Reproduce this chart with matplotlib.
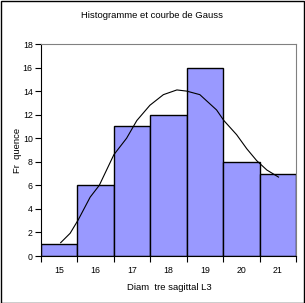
import numpy as np
import matplotlib
matplotlib.use("Agg")
import matplotlib.pyplot as plt
from matplotlib.patches import Rectangle

plt.rcParams['font.family'] = ['Liberation Sans', 'DejaVu Sans']

# ---- data ----
categories = ['15', '16', '17', '18', '19', '20', '21']
counts = [1, 6, 11, 12, 16, 8, 7]

# Gauss curve, x in category units (15..21), y in frequency
curve_x = [15.04, 15.30, 15.52, 15.85, 16.10, 16.30, 16.50, 16.85, 17.13, 17.49,
           17.86, 18.23, 18.50, 18.86, 19.32, 19.52, 19.87, 20.15, 20.42, 20.70, 21.02]
curve_y = [1.13, 1.93, 3.06, 5.0, 6.0, 7.3, 8.6, 10.0, 11.5, 12.8,
           13.7, 14.1, 14.0, 13.7, 12.4, 11.5, 10.3, 9.1, 8.1, 7.3, 6.7]

fig = plt.figure(figsize=(3.05, 3.03), dpi=100)
ax = fig.add_axes([41 / 305, 47 / 303, 255 / 305, 212 / 303])

pos = np.arange(len(categories))
ax.bar(pos, counts, width=1.0, color='#9999FF', edgecolor='black', linewidth=1.0)
ax.plot(np.array(curve_x) - 15, curve_y, color='black', linewidth=0.8)

ax.set_xlim(-0.5, len(categories) - 0.5)
ax.set_ylim(0, 18)
ax.set_yticks(np.arange(0, 19, 2))
ax.set_xticks(pos)
ax.set_xticklabels(categories)
ax.set_xticks(np.arange(-0.5, len(categories)), minor=True)
ax.tick_params(axis='x', which='major', length=0, pad=7, labelsize=6.3)
ax.tick_params(axis='x', which='minor', length=4, width=0.8, direction='out')
ax.tick_params(axis='y', length=4, width=0.8, direction='out', pad=2, labelsize=6.3)

for side in ['top', 'right']:
    ax.spines[side].set_color('#808080')
    ax.spines[side].set_linewidth(0.8)
for side in ['left', 'bottom']:
    ax.spines[side].set_color('black')
    ax.spines[side].set_linewidth(0.8)

fig.text(0.497, 1 - 15 / 303, 'Histogramme et courbe de Gauss', ha='center', va='center',
         fontsize=6.8)
fig.text(18 / 305, 1 - 150 / 303, 'Fr  quence', ha='center', va='center',
         rotation=90, fontsize=6.8)
fig.text(169 / 305, 1 - 287 / 303, 'Diam  tre sagittal L3', ha='center', va='center',
         fontsize=6.8)

fig.patches.append(Rectangle((0.5 / 305, 0.5 / 303), 1 - 1.5 / 305, 1 - 1.5 / 303,
                             transform=fig.transFigure, fill=False,
                             edgecolor='black', linewidth=1.0))

plt.savefig('out.png', dpi=100, facecolor='white')
plt.close()
